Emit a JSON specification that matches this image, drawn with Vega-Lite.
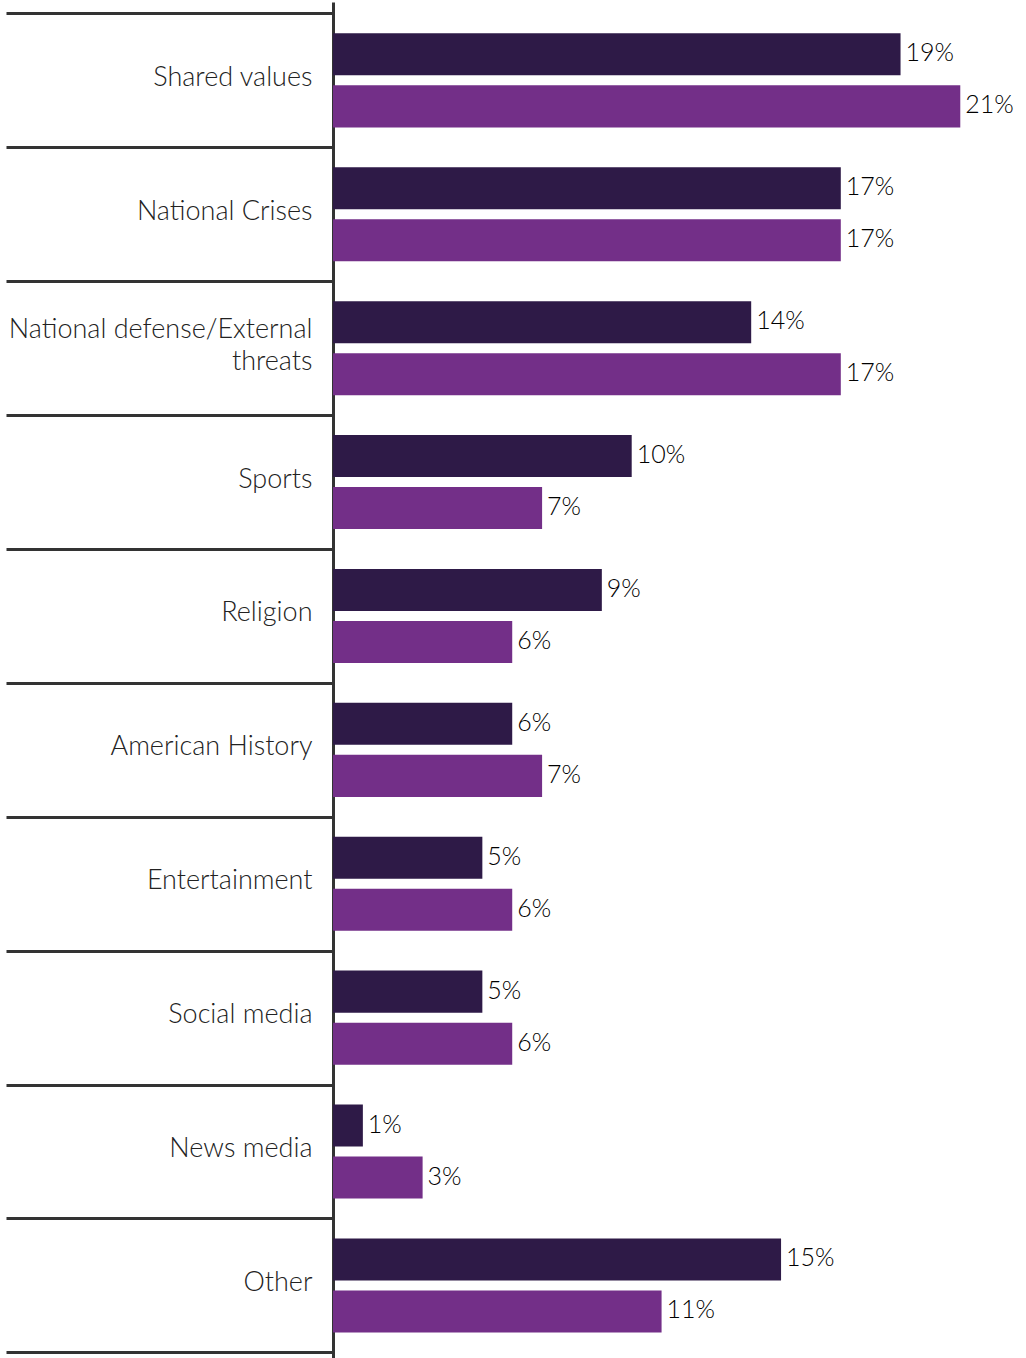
{
  "$schema": "https://vega.github.io/schema/vega-lite/v6.json",
  "autosize": {"type": "none"},
  "padding": {"left": 333, "top": 2, "right": 0, "bottom": 0},
  "width": 693,
  "height": 1358,
  "background": "white",
  "config": {"view": {"stroke": null}, "font": "Lato"},
  "data": {
    "values": [
      {"category": "Shared values", "series": "Series 1", "value": 0.19},
      {"category": "Shared values", "series": "Series 2", "value": 0.21},
      {"category": "National Crises", "series": "Series 1", "value": 0.17},
      {"category": "National Crises", "series": "Series 2", "value": 0.17},
      {"category": "National defense/External threats", "series": "Series 1", "value": 0.14},
      {"category": "National defense/External threats", "series": "Series 2", "value": 0.17},
      {"category": "Sports", "series": "Series 1", "value": 0.10},
      {"category": "Sports", "series": "Series 2", "value": 0.07},
      {"category": "Religion", "series": "Series 1", "value": 0.09},
      {"category": "Religion", "series": "Series 2", "value": 0.06},
      {"category": "American History", "series": "Series 1", "value": 0.06},
      {"category": "American History", "series": "Series 2", "value": 0.07},
      {"category": "Entertainment", "series": "Series 1", "value": 0.05},
      {"category": "Entertainment", "series": "Series 2", "value": 0.06},
      {"category": "Social media", "series": "Series 1", "value": 0.05},
      {"category": "Social media", "series": "Series 2", "value": 0.06},
      {"category": "News media", "series": "Series 1", "value": 0.01},
      {"category": "News media", "series": "Series 2", "value": 0.03},
      {"category": "Other", "series": "Series 1", "value": 0.15},
      {"category": "Other", "series": "Series 2", "value": 0.11}
    ]
  },
  "encoding": {
    "y": {
      "field": "category",
      "type": "nominal",
      "sort": null,
      "scale": {"paddingInner": 0, "paddingOuter": 0.071, "align": 0.6},
      "axis": {
        "title": null,
        "domain": true,
        "domainColor": "#333333",
        "domainWidth": 3,
        "ticks": true,
        "tickBand": "extent",
        "tickSize": 327,
        "tickWidth": 3,
        "tickColor": "#333333",
        "labelPadding": -306,
        "labelLimit": 400,
        "labelFont": "Lato",
        "labelFontSize": 27,
        "labelFontWeight": 300,
        "labelColor": "#222222",
        "labelAlign": "right",
        "labelBaseline": "middle",
        "labelLineHeight": 32,
        "labelOffset": {"condition": {"test": "datum.value == 'National defense/External threats'", "value": -19}, "value": -3},
        "labelExpr": "datum.label == 'National defense/External threats' ? ['National defense/External', 'threats'] : datum.label"
      }
    },
    "yOffset": {
      "field": "series",
      "type": "nominal",
      "scale": {"paddingInner": 0.192, "paddingOuter": 0.383}
    },
    "x": {
      "field": "value",
      "type": "quantitative",
      "scale": {"domain": [0, 0.232], "nice": false, "zero": true},
      "axis": null
    }
  },
  "layer": [
    {
      "mark": {"type": "bar"},
      "encoding": {
        "color": {
          "field": "series",
          "type": "nominal",
          "scale": {"domain": ["Series 1", "Series 2"], "range": ["#2E1A47", "#732F88"]},
          "legend": null
        }
      }
    },
    {
      "mark": {"type": "text", "align": "left", "baseline": "middle", "dx": 5, "dy": -1, "fontSize": 25, "fontWeight": 300, "font": "Lato", "color": "#000000"},
      "encoding": {
        "text": {"field": "value", "type": "quantitative", "format": ".0%"}
      }
    }
  ]
}
